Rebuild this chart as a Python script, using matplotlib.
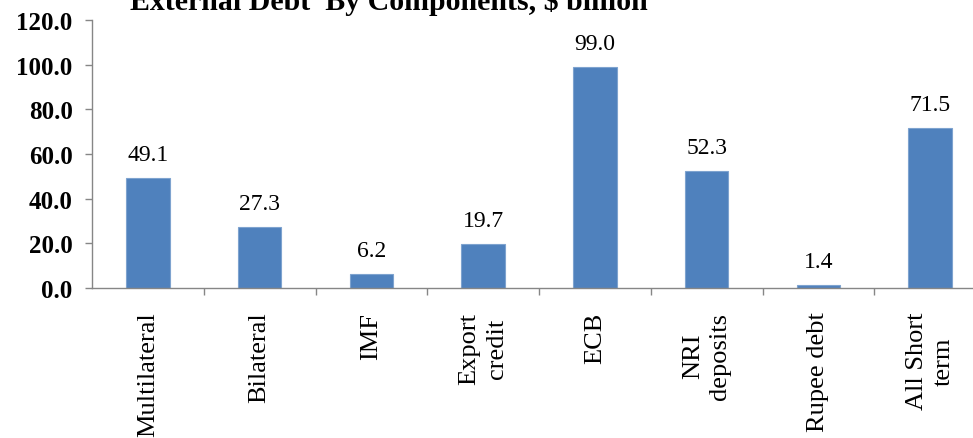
import matplotlib.pyplot as plt
import numpy as np

# data
categories = ['Multilateral', 'Bilateral', 'IMF', 'Export\ncredit', 'ECB',
              'NRI\ndeposits', 'Rupee debt', 'All Short\nterm']
values = [49.1, 27.3, 6.2, 19.7, 99.0, 52.3, 1.4, 71.5]
yticks = [0, 20, 40, 60, 80, 100, 120]

plt.rcParams['font.family'] = ['Liberation Serif', 'DejaVu Serif']

fig = plt.figure(figsize=(9.73, 4.39), dpi=100)
ax = fig.add_axes([92 / 973, 150 / 439, 894 / 973, 268 / 439])

x = np.arange(len(categories))
bars = ax.bar(x, values, width=0.39, color='#4F81BD', edgecolor='#7EA3CF', linewidth=0.8)

for xi, v in zip(x, values):
    ax.annotate('{:.1f}'.format(v), (xi, v), xytext=(0, 13), textcoords='offset points',
                ha='center', va='baseline', fontsize=17)

ax.set_xlim(-0.5, len(categories) - 0.5)
ax.set_ylim(0, 120)
ax.set_yticks(yticks)
ax.set_yticklabels(['{:.1f}'.format(t) for t in yticks], fontsize=18, fontweight='bold')

# ticks sit on category boundaries, labels at category centres
ax.set_xticks(np.arange(0.5, len(categories) - 0.5, 1.0))
ax.set_xticklabels([])
ax.set_xticks(x, minor=True)
ax.set_xticklabels(categories, minor=True, rotation=90, ha='center', va='top',
                   multialignment='center', fontsize=19, linespacing=1.3)
ax.tick_params(axis='x', which='minor', length=0, pad=17)
ax.tick_params(axis='x', which='major', length=5, width=1, color='#868686', direction='out')
ax.tick_params(axis='y', length=5, width=1, color='#868686', pad=9)

for s in ['top', 'right']:
    ax.spines[s].set_visible(False)
for s in ['left', 'bottom']:
    ax.spines[s].set_color('#868686')
    ax.spines[s].set_linewidth(1)

fig.text(130 / 973, 1 - 9.5 / 439, 'External Debt  By Components, $ billion',
         ha='left', va='baseline', fontsize=21.5, fontweight='bold')

plt.savefig('out.png', dpi=100)
